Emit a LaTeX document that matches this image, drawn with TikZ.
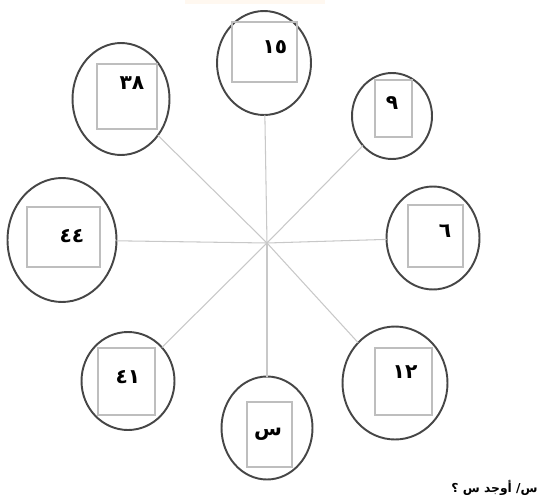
\documentclass[tikz,border=0pt]{standalone}
\usepackage{fontspec}
\newfontfamily\arabicfont[Script=Arabic]{DejaVu Sans}
\TeXXeTstate=1
\usepackage{xcolor}
\definecolor{ringgray}{RGB}{70,70,70}
\definecolor{boxgray}{RGB}{190,190,190}
\definecolor{spokegray}{RGB}{200,200,200}
\definecolor{peach}{RGB}{255,248,240}
\usetikzlibrary{shapes.geometric}
\tikzset{
  ring/.style={ellipse, draw=ringgray, line width=1.1pt, inner sep=0pt, outer sep=0pt},
  cell/.style={draw=boxgray, line width=0.9pt},
  spoke/.style={draw=spokegray, line width=0.6pt},
  num/.style={font=\arabicfont\bfseries\fontsize{11.5}{13}\selectfont, inner sep=0pt}
}

\begin{document}
\begin{tikzpicture}[x=0.02cm, y=-0.02cm]
  \useasboundingbox (0,0) rectangle (540,500);
  \fill[peach] (185,0) rectangle (325,4);

  % rings round the hub
  \node[ring, minimum width=1.88cm, minimum height=2.08cm] (rt)  at (264,63)  {};
  \node[ring, minimum width=1.94cm, minimum height=2.24cm] (rtl) at (121,99)  {};
  \node[ring, minimum width=1.60cm, minimum height=1.72cm] (rtr) at (392,116) {};
  \node[ring, minimum width=2.18cm, minimum height=2.48cm] (rl)  at (62,240)  {};
  \node[ring, minimum width=1.86cm, minimum height=2.06cm] (rr)  at (433,238) {};
  \node[ring, minimum width=1.86cm, minimum height=1.96cm] (rbl) at (128,381) {};
  \node[ring, minimum width=1.82cm, minimum height=2.06cm] (rb)  at (267,428) {};
  \node[ring, minimum width=2.10cm, minimum height=2.26cm] (rbr) at (395,383) {};

  % spokes
  \coordinate (hub) at (267,243);
  \foreach \r in {rt,rtl,rtr,rl,rr,rbl,rb,rbr}
    \draw[spoke] (hub) -- (\r);

  % boxes
  \draw[cell] (232,22) rectangle (297,82);
  \draw[cell] (97,64) rectangle (157,129);
  \draw[cell] (375,80) rectangle (412,137);
  \draw[cell] (27,207) rectangle (100,267);
  \draw[cell] (408,205) rectangle (463,267);
  \draw[cell] (98,348) rectangle (155,415);
  \draw[cell] (247,402) rectangle (292,467);
  \draw[cell] (375,348) rectangle (432,415);

  % numbers
  \node[num] (nt)  at (275,47)  {١٥};
  \node[num] (ntl) at (132,83)  {٣٨};
  \node[num] (ntr) at (392,103) {٩};
  \node[num] (nl)  at (72,236)  {٤٤};
  \node[num] (nr)  at (445,231) {٦};
  \node[num] (nbl) at (128,377) {٤١};
  \node[num] (nb)  at (268,434) {س};
  \node[num] (nbr) at (405,372) {١٢};

  \node[anchor=east, inner sep=0pt, font=\arabicfont\bfseries\fontsize{7}{9}\selectfont] (ask) at (538,488)
    {\beginR س/ أوجد س ؟\endR};
\end{tikzpicture}
\end{document}
